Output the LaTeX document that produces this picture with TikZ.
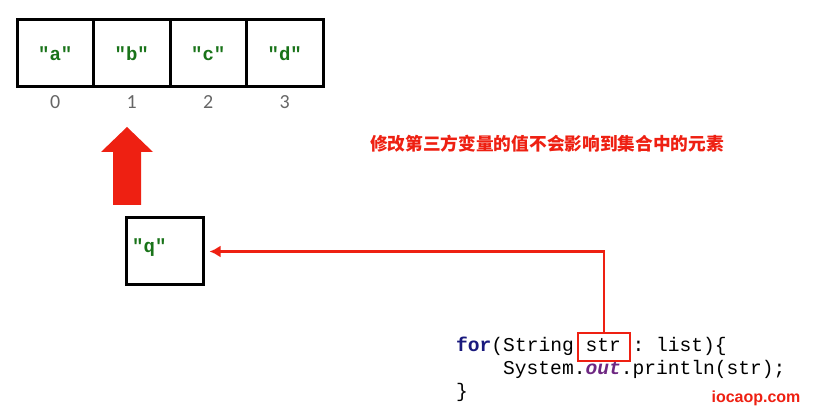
\documentclass[tikz,border=0pt]{standalone}
\usepackage{fontspec}
\usepackage{tikz}
\usetikzlibrary{arrows.meta}
\setmainfont{Carlito}
\setmonofont{Liberation Mono}
\newfontfamily\cjk{Noto Sans CJK SC}
\newfontfamily\wmfont{Liberation Sans}
\definecolor{strgreen}{RGB}{25,115,25}
\definecolor{kwblue}{RGB}{25,25,125}
\definecolor{fieldpurple}{RGB}{110,40,130}
\definecolor{noteRed}{RGB}{238,32,18}
\begin{document}
\begin{tikzpicture}[x=1pt,y=1pt,yscale=-1,xscale=1]
\useasboundingbox (0,0) rectangle (831,414);

%Array cells and indices
\foreach \i/\s in {0/a,1/b,2/c,3/d} {
  \node [draw, line width=3, minimum width=76.5, minimum height=67, inner sep=0, font=\ttfamily\bfseries\fontsize{19}{19}\selectfont, text=strgreen] (cell\i) at (55.25+76.5*\i,53.5) {"\s"};
  \node [font=\fontsize{20}{20}\selectfont, text=black!60] (idx\i) at (55.25+76.5*\i,102) {\i};
}

%Block arrow
\fill [noteRed] (127,127) -- (153,152) -- (141,152) -- (141,205) -- (113,205) -- (113,152) -- (101,152) -- cycle ;

%Variable box
\node [draw, line width=3, minimum width=77, minimum height=67, inner sep=0] (qbox) at (164.5,251.5) {};
\node [anchor=west, inner sep=0, font=\ttfamily\bfseries\fontsize{19}{19}\selectfont, text=strgreen] (qtext) at (132,248) {"q"};

% Text Node
\node [font=\cjk\bfseries\fontsize{17.7}{17.7}\selectfont, text=noteRed] (note) at (547,144) {修改第三方变量的值不会影响到集合中的元素};

% Code lines
\node [anchor=base west, inner sep=0, font=\ttfamily\fontsize{19.6}{19.6}\selectfont] (line1) at (456,352) {\textcolor{kwblue}{\bfseries for}(String str : list)\{};
\node [anchor=base west, inner sep=0, font=\ttfamily\fontsize{19.6}{19.6}\selectfont] (line2) at (503,375) {System.\textcolor{fieldpurple}{\bfseries\itshape out}.println(str);};
\node [anchor=base west, inner sep=0, font=\ttfamily\fontsize{19.6}{19.6}\selectfont] (line3) at (456,398) {\}};
\node [draw=noteRed, line width=2, minimum width=52, minimum height=28, inner sep=0] (strbox) at (604,347) {};

%Connector
\draw [noteRed, line width=2.5, -{Latex[length=11,width=12]}] (strbox.north) |- ([xshift=5]qbox.east) ;

% Text Node
\node [font=\wmfont\bfseries\fontsize{16}{16}\selectfont, text=noteRed] (site) at (756,398.5) {iocaop.com};

\end{tikzpicture}
\end{document}
